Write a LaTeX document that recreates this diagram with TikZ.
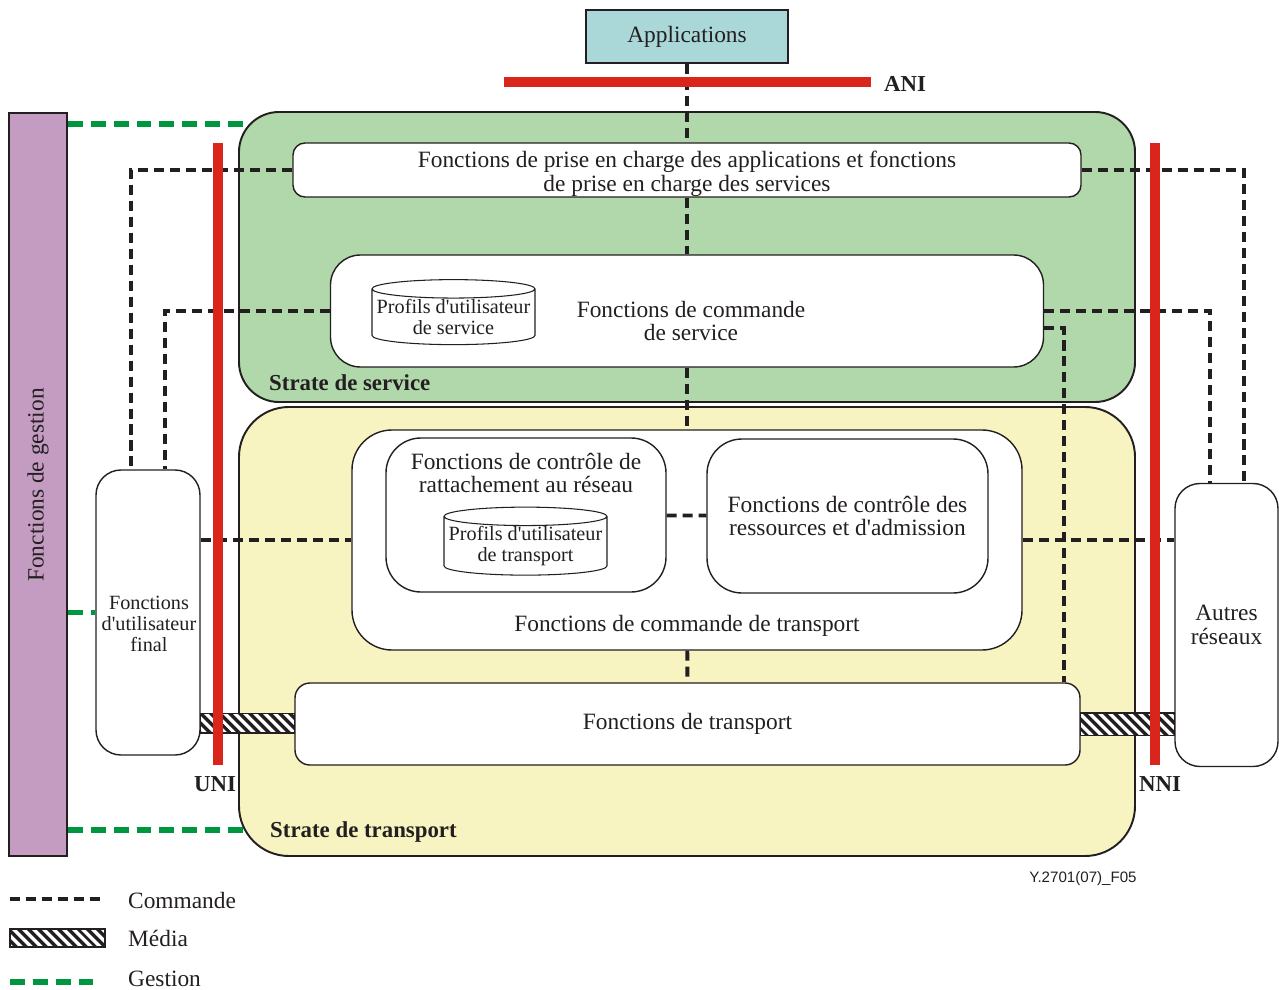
\documentclass[tikz,border=0pt]{standalone}
\usepackage{fontspec}
\setmainfont{Liberation Serif}[Ligatures=TeXOff]
\newfontfamily\figfont{Liberation Sans}
\usetikzlibrary{shapes.geometric, patterns.meta, calc}
\definecolor{ngnteal}{HTML}{AAD7D8}
\definecolor{ngngreen}{HTML}{B1D8AA}
\definecolor{ngnyellow}{HTML}{F7F4C1}
\definecolor{ngnpurple}{HTML}{C49BC1}
\definecolor{ngnred}{HTML}{DA251D}
\definecolor{ngngest}{HTML}{009640}
\definecolor{ngnblack}{HTML}{231F20}

\begin{document}
\begin{tikzpicture}[
      x=0.2mm, y=-0.2mm,
      every node/.style={font=\fontsize{13.3}{13.6}\selectfont, text=ngnblack, align=center},
      box/.style={draw=ngnblack, fill=white, line width=0.8pt, inner sep=0pt},
      stratum/.style={draw=ngnblack, line width=1.1pt, inner sep=0pt},
      db/.style={cylinder, shape border rotate=90, aspect=0.12, draw=ngnblack, fill=white, line width=0.6pt, inner sep=0pt, font=\fontsize{11.5}{12}\selectfont},
      cmd/.style={ngnblack, line width=2.2pt, dash pattern=on 5.7pt off 3.4pt},
      gest/.style={ngngest, line width=3.4pt, dash pattern=on 8.5pt off 4.5pt},
      iface/.style={ngnred, line width=5.7pt},
      media/.style={draw=ngnblack, line width=0.6pt, preaction={fill=white}, pattern={Lines[angle=-45, distance=4pt, line width=2pt]}, pattern color=ngnblack},
      ifl/.style={font=\fontsize{13}{15}\selectfont\bfseries}
    ]
      \useasboundingbox (0,0) rectangle (1279,990);

      \node[stratum, fill=ngngreen, rounded corners=8mm, minimum width=179.2mm, minimum height=58mm] (ss) at (687,257) {};
      \node[stratum, fill=ngnyellow, rounded corners=10mm, minimum width=179.2mm, minimum height=89.8mm] (ts) at (687,631.5) {};
      \node[stratum, fill=ngnpurple, minimum width=11.6mm, minimum height=148.6mm] (gm) at (38,484.5) {};
      \node[rotate=90] (gmtext) at (38,485) {Fonctions de gestion};
      \node[box, fill=ngnteal, line width=1.1pt, minimum width=40.4mm, minimum height=10.6mm] (app) at (687,36.5) {Applications};

      \node[box, rounded corners=2.4mm, minimum width=157.6mm, minimum height=10.8mm] (asf) at (687,170) {};
      \node (asftext) at (687,174) {Fonctions de prise en charge des applications et fonctions\\de prise en charge des services};
      \node[box, rounded corners=6mm, minimum width=142.6mm, minimum height=22.4mm] (scf) at (687,311) {};
      \node (scftext) at (691,321) {Fonctions de commande\\de service};
      \node[db, minimum width=32.6mm, minimum height=13mm] (sdb) at (453.5,317) {Profils d'utilisateur\\de service};

      \node[box, rounded corners=8mm, minimum width=134mm, minimum height=44mm] (tcf) at (687,540) {};
      \node (tcftext) at (687,626) {Fonctions de commande de transport};
      \node[box, rounded corners=7mm, minimum width=56mm, minimum height=30.8mm] (nacf) at (526,515) {};
      \node (nacftext) at (526,473) {Fonctions de contrôle de\\rattachement au réseau};
      \node[db, minimum width=32.6mm, minimum height=13.6mm] (tdb) at (525.5,546) {Profils d'utilisateur\\de transport};
      \node[box, rounded corners=7mm, minimum width=56.2mm, minimum height=30.8mm] (racf) at (847.5,516) {Fonctions de contrôle des\\ressources et d'admission};
      \node[box, rounded corners=3mm, minimum width=157mm, minimum height=16.4mm] (tf) at (687.5,724) {Fonctions de transport};

      \node[box, rounded corners=5mm, minimum width=20.8mm, minimum height=57mm] (eu) at (148,612.5) {};
      \node[font=\fontsize{11.5}{12}\selectfont] (eutext) at (149,624) {Fonctions\\d'utilisateur\\final};
      \node[box, rounded corners=5mm, minimum width=20.6mm, minimum height=56.6mm] (oth) at (1226.5,625) {Autres\\réseaux};

      \draw[cmd] (app) -- (asf);
      \draw[cmd] (asf) -- (scf);
      \draw[cmd] (scf) -- (tcf);
      \draw[cmd] (tcf) -- (tf);
      \draw[cmd] (nacf) -- (racf);
      \draw[cmd] (asf.west) -| ([xshift=-3.4mm]eu.north);
      \draw[cmd] (scf.west) -| ([xshift=3.4mm]eu.north);
      \draw[cmd] (eu.east |- tcf.west) -- (tcf.west);
      \draw[cmd] (asf.east) -| ([xshift=3.5mm]oth.north);
      \draw[cmd] (scf.east) -| ([xshift=-3.3mm]oth.north);
      \draw[cmd] ([yshift=-3.4mm]scf.east) -| ([xshift=-3.4mm]tf.north east);
      \draw[cmd] (tcf.east) -- (tcf.east -| oth.west);

      \draw[gest] ($(gm.north east)+(0,12)$) -- ($(gm.north east -| ss.west)+(10,12)$);
      \draw[gest] (gm.east |- eu.west) -- (eu.west);
      \draw[gest] ($(gm.south east)+(0,-27)$) -- ($(gm.south east -| ts.west)+(6,-27)$);

      \path[media] ($(eu.south east)+(0,-42)$) rectangle ($(tf.west)+(0,9)$);
      \path[media] ($(tf.east)+(0,-11)$) rectangle ($(oth.south west)+(0,-32)$);

      \coordinate (ani1) at (504,82);
      \coordinate (ani2) at (871,82);
      \coordinate (uni1) at (218,143);
      \coordinate (uni2) at (218,765);
      \coordinate (nni1) at (1155,143);
      \coordinate (nni2) at (1155,765);
      \draw[iface] (ani1) -- (ani2);
      \draw[iface] (uni1) -- (uni2);
      \draw[iface] (nni1) -- (nni2);
      \node[ifl, anchor=west] (anitext) at (878,84) {ANI};
      \node[ifl] (unitext) at (215,784) {UNI};
      \node[ifl] (nnitext) at (1160,784) {NNI};

      \node[ifl, anchor=west] (sstext) at (263,383) {Strate de service};
      \node[ifl, anchor=west] (tstext) at (264,832) {Strate de transport};

      \coordinate (lg1) at (10,899);
      \coordinate (lg2) at (103,899);
      \coordinate (lg3) at (10,982);
      \coordinate (lg4) at (100,982);
      \draw[cmd] (lg1) -- (lg2);
      \path[media] (10,929) rectangle (105,947);
      \draw[gest] (lg3) -- (lg4);
      \node[anchor=west] (lgcmd) at (122,900) {Commande};
      \node[anchor=west] (lgmed) at (122,938) {Média};
      \node[anchor=west] (lggest) at (122,979) {Gestion};
      \node[font=\figfont\fontsize{8.6}{10}\selectfont] (figid) at (1083,879) {Y.2701(07)\_F05};
    \end{tikzpicture}
\end{document}
